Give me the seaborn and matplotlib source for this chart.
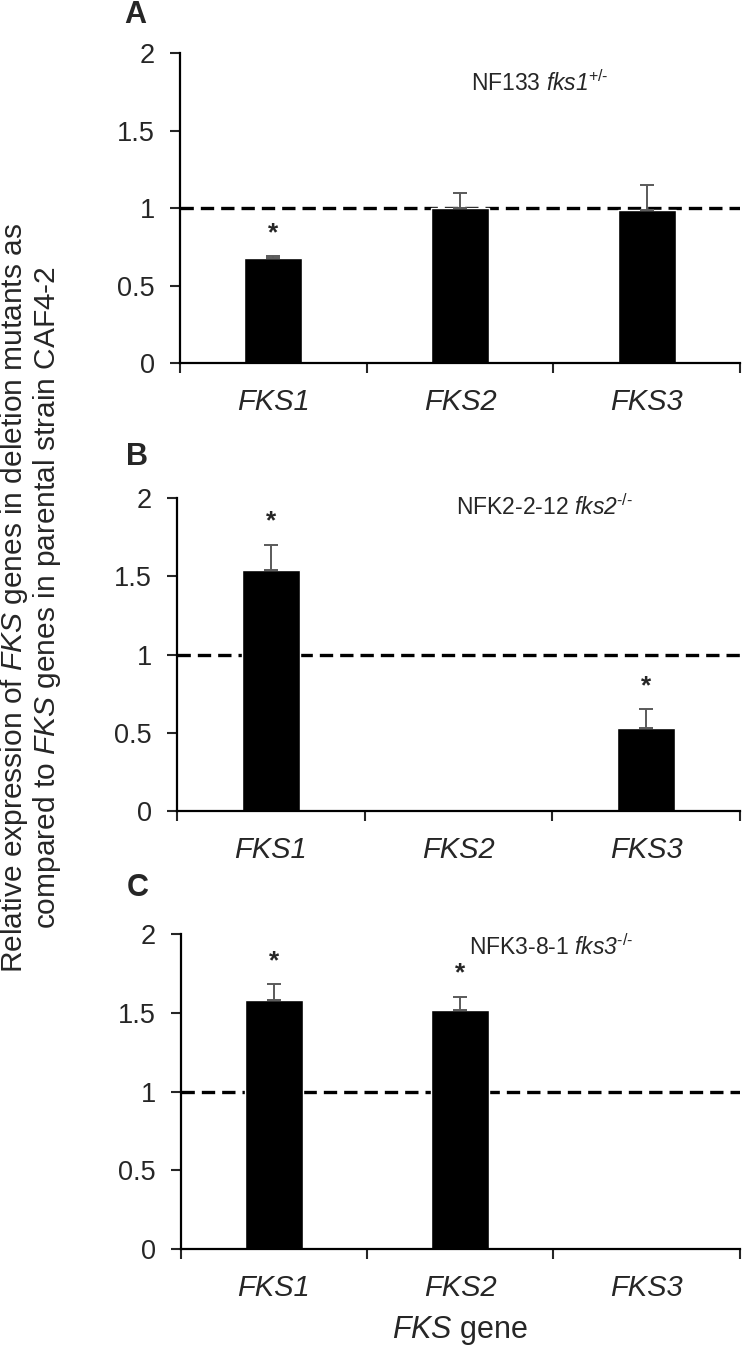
import numpy as np
import pandas as pd
import matplotlib
matplotlib.use("Agg")
import matplotlib.pyplot as plt
import seaborn as sns

# ---- data ----
genes = ['FKS1', 'FKS2', 'FKS3']

# A: NF133 fks1+/-
a_vals = [0.68, 1.00, 0.99]
a_err = [0.01, 0.10, 0.16]
a_sig = [True, False, False]

# B: NFK2-2-12 fks2-/-  (FKS2 deleted -> no bar)
b_vals = [1.54, np.nan, 0.53]
b_err = [0.16, np.nan, 0.12]
b_sig = [True, False, True]

# C: NFK3-8-1 fks3-/-  (FKS3 deleted -> no bar)
c_vals = [1.58, 1.52, np.nan]
c_err = [0.10, 0.08, np.nan]
c_sig = [True, True, False]

letters = ['A', 'B', 'C']
strains = [r'NF133 $\mathsf{fks1}^{\text{+/-}}$',
           r'NFK2-2-12 $\mathsf{fks2}^{\text{-/-}}$',
           r'NFK3-8-1 $\mathsf{fks3}^{\text{-/-}}$']
yticks = [0, 0.5, 1, 1.5, 2]
yticklabels = ['0', '0.5', '1', '1.5', '2']

sns.set_style("ticks")
plt.rcParams['font.family'] = ['Liberation Sans', 'DejaVu Sans']
plt.rcParams['mathtext.fontset'] = 'custom'
plt.rcParams['mathtext.rm'] = 'Liberation Sans'
plt.rcParams['mathtext.it'] = 'Liberation Sans:italic'
plt.rcParams['mathtext.sf'] = 'Liberation Sans:italic'  # italic incl. digits
plt.rcParams['mathtext.bf'] = 'Liberation Sans:bold'

fig = plt.figure(figsize=(7.5, 13.49), dpi=100)

# axes rectangles in figure fraction (left, bottom, width, height)
rects = [(0.240, 0.7309, 0.7467, 0.2298),
         (0.236, 0.3988, 0.7507, 0.2320),
         (0.241, 0.0741, 0.7453, 0.2335)]
note_pos = [(0.765, 0.903), (0.810, 0.971), (0.809, 0.959)]
letter_pos = [(0.180, 0.989), (0.183, 0.661), (0.184, 0.342)]

panels = [(a_vals, a_err, a_sig), (b_vals, b_err, b_sig), (c_vals, c_err, c_sig)]

for k, (vals, errs, sig) in enumerate(panels):
    ax = fig.add_axes(rects[k])
    df = pd.DataFrame({'gene': genes, 'value': vals, 'err': errs})

    ax.axhline(1, color='black', lw=2.4, ls=(0, (4, 2.1)), zorder=1)
    sns.barplot(data=df, x='gene', y='value', order=genes, color='black',
                width=0.31, errorbar=None, saturation=1, ax=ax, zorder=3)

    ok = df['value'].notna()
    idx = np.arange(len(genes))[ok.values]
    ax.errorbar(idx, df.loc[ok, 'value'], yerr=[np.zeros(ok.sum()), df.loc[ok, 'err']],
                fmt='none', ecolor='#5a5a5a', elinewidth=1.4, capsize=5,
                capthick=1.4, zorder=4)
    for i in range(len(genes)):
        if sig[i]:
            ax.text(i, vals[i] + errs[i] + 0.15, '*', ha='center', va='center',
                    fontsize=19, fontweight='bold')

    ax.set_xlim(-0.5, 2.5)
    ax.set_ylim(0, 2)
    ax.set_yticks(yticks)
    ax.set_yticklabels(yticklabels)
    ax.set_xticks(range(len(genes)))
    ax.set_xticklabels(genes, fontstyle='italic')
    ax.set_xticks([-0.5, 0.5, 1.5, 2.5], minor=True)
    ax.tick_params(axis='x', which='major', length=0, pad=18, labelsize=21)
    ax.tick_params(axis='x', which='minor', length=7, width=1.5, direction='out')
    ax.tick_params(axis='y', length=7, width=1.5, pad=11, labelsize=19.5)
    ax.set_xlabel('')
    ax.set_ylabel('')
    sns.despine(ax=ax)
    for s in ['left', 'bottom']:
        ax.spines[s].set_linewidth(1.6)
        ax.spines[s].set_color('black')
    ax.spines['bottom'].set_zorder(5)

    ax.text(note_pos[k][0], note_pos[k][1], strains[k], transform=ax.transAxes,
            ha='right', va='center', fontsize=16.5)
    fig.text(letter_pos[k][0], letter_pos[k][1], letters[k], fontsize=22,
             fontweight='bold', ha='center', va='center')

fig.text(0.041, 0.557,
         'Relative expression of $\\mathsf{FKS}$ genes in deletion mutants as\n'
         'compared to $\\mathsf{FKS}$ genes in parental strain CAF4-2',
         rotation=90, ha='center', va='center', fontsize=21.5, linespacing=1.05)
fig.text(0.613, 0.014, r'$\mathsf{FKS}$ gene', ha='center', va='center', fontsize=22)

fig.savefig('out.png', dpi=100)
